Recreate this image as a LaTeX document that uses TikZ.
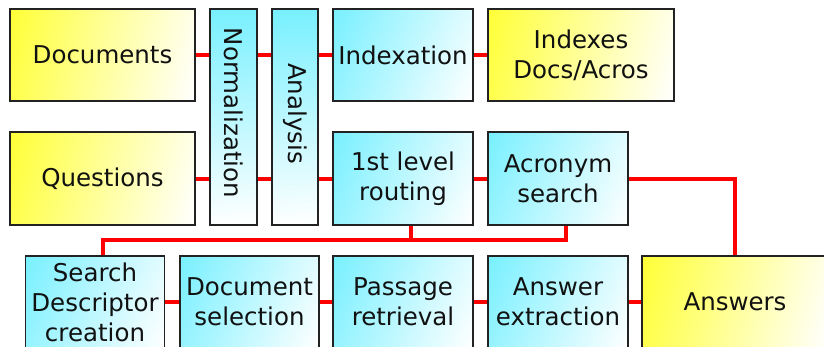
\documentclass[tikz,border=0pt]{standalone}
\usepackage{fontspec}
\setmainfont{DejaVu Sans}
\definecolor{boxyellow}{RGB}{255,255,55}
\definecolor{boxcyan}{RGB}{120,240,255}
\definecolor{boxedge}{RGB}{34,34,34}
\definecolor{txt}{RGB}{17,17,17}
% Fades running from the top-left corner to the bottom-right corner.
% Stops and angles are set per box proportion so the colour axis follows
% the true diagonal of the box (bottom colour first, top colour last).
\pgfdeclareverticalshading{yellowwide}{100bp}{color(0bp)=(white); color(19.7bp)=(white); color(80.3bp)=(boxyellow); color(100bp)=(boxyellow)}
\pgfdeclareverticalshading{cyanmid}{100bp}{color(0bp)=(white); color(17.1bp)=(white); color(82.9bp)=(boxcyan); color(100bp)=(boxcyan)}
\pgfdeclareverticalshading{cyantall}{100bp}{color(0bp)=(white); color(23.9bp)=(white); color(76.1bp)=(boxcyan); color(100bp)=(boxcyan)}
\tikzset{
  stage/.style={draw=boxedge, line width=1.1pt, inner sep=0pt, align=center,
    text=txt, font=\fontsize{24.5}{30}\selectfont},
  datastore/.style={stage, shade, shading=yellowwide, shading angle=76},
  process/.style={stage, shade, shading=cyanmid, shading angle=66.6},
  column/.style={stage, shade, shading=cyantall, shading angle=2.7},
  link/.style={draw=red, line width=4pt},
}
\begin{document}
\begin{tikzpicture}[x=1pt,y=-1pt]
  \useasboundingbox (0,0) rectangle (824,346);
  \clip (0,0) rectangle (824,346);

  % top rows
  \node[datastore, minimum width=185pt, minimum height=92pt] (docs) at (102.5,55) {Documents};
  \node[column, minimum width=47pt, minimum height=216pt] (norm) at (233.5,117) {\rotatebox{-90}{Normalization\hspace{8pt}}};
  \node[column, minimum width=46pt, minimum height=216pt] (anal) at (295,117) {\rotatebox{-90}{Analysis\hspace{7pt}}};
  \node[process, minimum width=140pt, minimum height=92pt] (idx) at (403,55) {Indexation};
  \node[datastore, minimum width=186pt, minimum height=92pt] (idxs) at (581,55) {Indexes\\Docs/Acros};
  \node[datastore, minimum width=185pt, minimum height=93pt] (ques) at (102.5,178.5) {Questions};
  \node[process, minimum width=140pt, minimum height=93pt] (route) at (403,178.5) {1st level\\routing};
  \node[process, minimum width=140pt, minimum height=93pt] (acro) at (558,178.5) {Acronym\\search};

  % bottom row
  \node[process, minimum width=139pt, minimum height=92pt] (sdc) at (95,302) {Search\\Descriptor\\creation};
  \node[process, minimum width=139pt, minimum height=92pt] (dsel) at (249.5,302) {Document\\selection};
  \node[process, minimum width=140pt, minimum height=92pt] (pret) at (403,302) {Passage\\retrieval};
  \node[process, minimum width=140pt, minimum height=92pt] (aext) at (558,302) {Answer\\extraction};
  \node[datastore, minimum width=186pt, minimum height=92pt] (ans) at (735,302) {Answers};

  % document indexing chain
  \draw[link] (docs.east) -- (docs.east -| norm.west);
  \draw[link] (docs.east -| norm.east) -- (docs.east -| anal.west);
  \draw[link] (docs.east -| anal.east) -- (idx.west);
  \draw[link] (idx.east) -- (idxs.west);

  % question chain
  \draw[link] (ques.east) -- (ques.east -| norm.west);
  \draw[link] (ques.east -| norm.east) -- (ques.east -| anal.west);
  \draw[link] (ques.east -| anal.east) -- (route.west);
  \draw[link] (route.east) -- (acro.west);
  \draw[link] (acro.east) -| (ans.north);

  % routing bus, tapped a little right of each box centre
  \coordinate (routeTap) at ([xshift=8pt]route.south);
  \coordinate (acroTap) at ([xshift=8pt]acro.south);
  \coordinate (sdcTap) at ([xshift=8pt]sdc.north);
  \coordinate (busR) at ([yshift=-14pt]acroTap);
  \draw[link] (acroTap) -- (busR) -- (busR -| sdcTap) -- (sdcTap);
  \draw[link] (routeTap) -- (routeTap |- busR);

  % answering chain
  \draw[link] (sdc.east) -- (dsel.west);
  \draw[link] (dsel.east) -- (pret.west);
  \draw[link] (pret.east) -- (aext.west);
  \draw[link] (aext.east) -- (ans.west);
\end{tikzpicture}
\end{document}
